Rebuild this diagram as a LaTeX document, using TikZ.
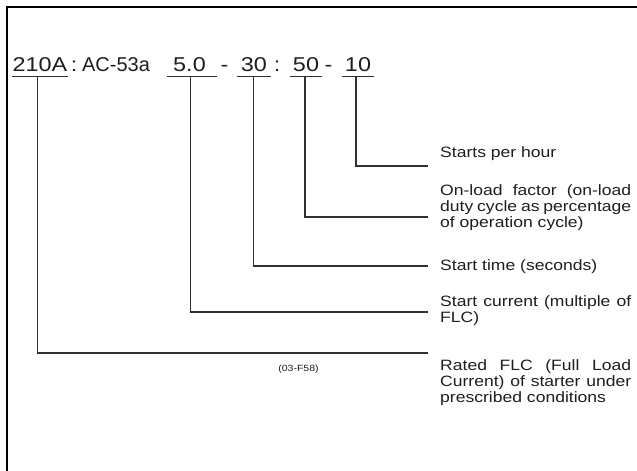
\documentclass[tikz,border=0pt]{standalone}
\usepackage{fontspec}
\setmainfont{Liberation Sans}[FakeStretch=1.17]
\newfontfamily\plainsans{Liberation Sans}
\definecolor{textgray}{HTML}{1E1E1E}
\definecolor{linegray}{HTML}{303030}
\hbadness=10000
\hyphenpenalty=10000
\exhyphenpenalty=10000
\begin{document}
\begin{tikzpicture}[x=1pt,y=-1pt,
  conn/.style={draw=linegray, line width=1.3pt},
  ulline/.style={draw=linegray, line width=1.1pt},
  frame/.style={draw=black, line width=2.4pt},
  tok/.style={inner sep=0pt, anchor=base, text height=14pt, text depth=5pt,
    font=\fontsize{20}{23}\selectfont, text=textgray},
  lab/.style={anchor=base west, inner sep=0pt, text width=191pt, align=justify,
    font=\fontsize{15}{16}\selectfont, text=textgray},
  small/.style={inner sep=0pt, font=\fontsize{9}{10}\selectfont, text=textgray}
]
\useasboundingbox (0,0) rectangle (637,471);
\draw[frame] (640,7) -- (7,7) -- (7,475);

% code line
\node[tok, minimum width=56pt] (t210) at (40,71) {210A};
\node[tok] (c1) at (74,71) {:};
\node[tok] (ac) at (116,71) {\plainsans AC-53a};
\node[tok, minimum width=50pt] (t5) at (192,71) {5.0\kern5pt};
\node[tok] (d1) at (224.5,71) {-};
\node[tok, minimum width=34pt] (t30) at (254,71) {30};
\node[tok] (c2) at (277,71) {:};
\node[tok, minimum width=32pt] (t50) at (306,71) {50};
\node[tok] (d2) at (328.5,71) {-};
\node[tok, minimum width=32pt] (t10) at (358,71) {10};
\foreach \n in {t210,t5,t30,t50,t10}
  \draw[ulline] (\n.south west) -- (\n.south east);

% labels
\node[lab] (l10) at (440,157) {Starts per hour};
\node[lab] (l50) at (440,195) {On-load factor (on-load\linebreak duty cycle as percentage\linebreak of operation cycle)};
\node[lab] (l30) at (440,270) {Start time (seconds)};
\node[lab] (l5) at (440,306) {Start current (multiple of\linebreak FLC)};
\node[lab] (l210) at (440,370) {Rated FLC (Full Load\linebreak Current) of starter under\linebreak prescribed conditions};
\node[small] (code) at (298.5,369) {(03-F58)};

% line ends
\coordinate (e10) at (428,166);
\coordinate (e50) at (428,217);
\coordinate (e30) at (428,266);
\coordinate (e5) at (428,312);
\coordinate (e210) at (428,353);

% connectors
\draw[conn] ([xshift=-2pt]t10.south) |- (e10);
\draw[conn] ([xshift=-1pt]t50.south) |- (e50);
\draw[conn] ([xshift=-0.5pt]t30.south) |- (e30);
\draw[conn] ([xshift=-1.5pt]t5.south) |- (e5);
\draw[conn] ([xshift=-2.5pt]t210.south) |- (e210);
\end{tikzpicture}
\end{document}
